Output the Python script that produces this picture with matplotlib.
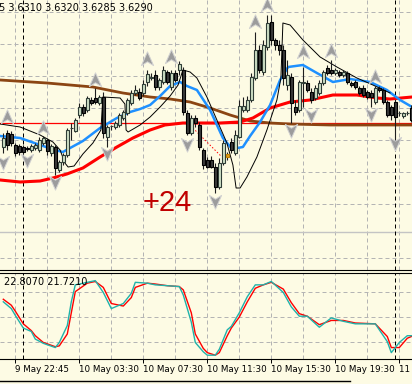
import matplotlib
matplotlib.use("Agg")
import matplotlib.pyplot as plt
from matplotlib.path import Path
from matplotlib.lines import Line2D

# M15 bars, index 0..102 (left to right)
opens = [3.6253, 3.6267, 3.6266, 3.6255, 3.6254, 3.6253, 3.6252, 3.6250, 3.6252, 3.6250,
         3.6257, 3.6260, 3.6247, 3.6253, 3.6230, 3.6238, 3.6245, 3.6272, 3.6269, 3.6285,
         3.6293, 3.6290, 3.6300, 3.6302, 3.6297, 3.6303, 3.6263, 3.6274, 3.6273, 3.6275,
         3.6282, 3.6287, 3.6297, 3.6307, 3.6308, 3.6307, 3.6318, 3.6322, 3.6325, 3.6313,
         3.6318, 3.6328, 3.6313, 3.6327, 3.6330, 3.6330, 3.6287, 3.6267, 3.6282, 3.6275,
         3.6250, 3.6240, 3.6240, 3.6233, 3.6213, 3.6237, 3.6243, 3.6258, 3.6247, 3.6263,
         3.6290, 3.6290, 3.6300, 3.6322, 3.6350, 3.6328, 3.6353, 3.6378, 3.6360, 3.6355,
         3.6350, 3.6315, 3.6323, 3.6293, 3.6290, 3.6317, 3.6317, 3.6308, 3.6302, 3.6307,
         3.6317, 3.6332, 3.6330, 3.6327, 3.6328, 3.6325, 3.6327, 3.6317, 3.6318, 3.6312,
         3.6312, 3.6308, 3.6307, 3.6298, 3.6312, 3.6310, 3.6298, 3.6293, 3.6298, 3.6287,
         3.6284, 3.6287, 3.6292]
closes = [3.6262, 3.6255, 3.6257, 3.6247, 3.6248, 3.6248, 3.6251, 3.6254, 3.6255, 3.6260,
          3.6262, 3.6249, 3.6254, 3.6232, 3.6238, 3.6245, 3.6270, 3.6272, 3.6280, 3.6293,
          3.6287, 3.6302, 3.6297, 3.6298, 3.6303, 3.6267, 3.6273, 3.6274, 3.6277, 3.6285,
          3.6288, 3.6300, 3.6307, 3.6310, 3.6302, 3.6316, 3.6326, 3.6323, 3.6313, 3.6320,
          3.6330, 3.6318, 3.6327, 3.6320, 3.6336, 3.6288, 3.6267, 3.6282, 3.6277, 3.6253,
          3.6235, 3.6233, 3.6233, 3.6213, 3.6237, 3.6257, 3.6246, 3.6250, 3.6265, 3.6294,
          3.6294, 3.6300, 3.6323, 3.6350, 3.6330, 3.6355, 3.6377, 3.6360, 3.6355, 3.6350,
          3.6322, 3.6325, 3.6297, 3.6288, 3.6318, 3.6318, 3.6310, 3.6300, 3.6312, 3.6317,
          3.6328, 3.6327, 3.6327, 3.6330, 3.6325, 3.6328, 3.6318, 3.6315, 3.6313, 3.6307,
          3.6305, 3.6303, 3.6303, 3.6312, 3.6310, 3.6298, 3.6285, 3.6285, 3.6283, 3.6287,
          3.6287, 3.6287, 3.6280]
highs = [3.6267, 3.6270, 3.6269, 3.6257, 3.6256, 3.6255, 3.6254, 3.6256, 3.6257, 3.6263,
         3.6264, 3.6262, 3.6256, 3.6255, 3.6240, 3.6247, 3.6272, 3.6277, 3.6282, 3.6297,
         3.6296, 3.6304, 3.6303, 3.6312, 3.6305, 3.6308, 3.6275, 3.6275, 3.6279, 3.6287,
         3.6290, 3.6302, 3.6310, 3.6315, 3.6312, 3.6320, 3.6330, 3.6327, 3.6330, 3.6322,
         3.6334, 3.6330, 3.6330, 3.6330, 3.6339, 3.6333, 3.6290, 3.6285, 3.6285, 3.6278,
         3.6252, 3.6243, 3.6244, 3.6237, 3.6242, 3.6260, 3.6248, 3.6262, 3.6270, 3.6300,
         3.6303, 3.6304, 3.6327, 3.6368, 3.6355, 3.6360, 3.6385, 3.6385, 3.6362, 3.6360,
         3.6355, 3.6340, 3.6327, 3.6300, 3.6320, 3.6333, 3.6320, 3.6312, 3.6315, 3.6320,
         3.6330, 3.6335, 3.6340, 3.6332, 3.6330, 3.6330, 3.6329, 3.6319, 3.6320, 3.6314,
         3.6315, 3.6310, 3.6310, 3.6314, 3.6314, 3.6312, 3.6300, 3.6295, 3.6300, 3.6289,
         3.6288, 3.6289, 3.6295]
lows = [3.6247, 3.6250, 3.6254, 3.6244, 3.6245, 3.6246, 3.6249, 3.6248, 3.6250, 3.6248,
        3.6255, 3.6245, 3.6244, 3.6225, 3.6228, 3.6235, 3.6243, 3.6260, 3.6268, 3.6282,
        3.6284, 3.6288, 3.6295, 3.6296, 3.6295, 3.6262, 3.6253, 3.6270, 3.6271, 3.6273,
        3.6280, 3.6285, 3.6295, 3.6305, 3.6300, 3.6304, 3.6314, 3.6320, 3.6310, 3.6310,
        3.6316, 3.6316, 3.6310, 3.6318, 3.6325, 3.6285, 3.6265, 3.6265, 3.6273, 3.6250,
        3.6231, 3.6232, 3.6232, 3.6207, 3.6211, 3.6235, 3.6240, 3.6247, 3.6245, 3.6262,
        3.6288, 3.6288, 3.6298, 3.6320, 3.6327, 3.6325, 3.6350, 3.6355, 3.6350, 3.6345,
        3.6315, 3.6310, 3.6277, 3.6285, 3.6288, 3.6293, 3.6308, 3.6297, 3.6300, 3.6305,
        3.6315, 3.6325, 3.6325, 3.6325, 3.6323, 3.6323, 3.6316, 3.6313, 3.6311, 3.6305,
        3.6303, 3.6301, 3.6293, 3.6296, 3.6308, 3.6296, 3.6283, 3.6280, 3.6260, 3.6284,
        3.6282, 3.6285, 3.6278]
marked_bar = 56  # the gold candle

# moving averages (bar position, price)
blue_x = [-0.8, 4.2, 9.2, 12.9, 14.9, 16.7, 19.9, 24.2, 28.4, 31.7, 34.2, 36.7, 39.2, 41.7,
          44.2, 45.9, 48.4, 51.7, 54.9, 57.2, 59.9, 61.7, 64.2, 66.7, 69.2, 71.2, 74.9, 78.4,
          82.4, 86.7, 91.7, 95.9, 99.2, 102.2]
blue_y = [3.6264, 3.6262, 3.6255, 3.6250, 3.6248, 3.6252, 3.6259, 3.6272, 3.6282, 3.6288,
          3.6291, 3.6295, 3.6304, 3.6314, 3.6318, 3.6314, 3.6310, 3.6290, 3.6262, 3.6251,
          3.6253, 3.6264, 3.6278, 3.6295, 3.6320, 3.6333, 3.6335, 3.6327, 3.6318, 3.6321,
          3.6318, 3.6310, 3.6300, 3.6293]
red_x = [-0.8, 4.2, 9.2, 12.4, 15.9, 19.9, 24.2, 28.4, 32.4, 36.7, 40.4, 44.9, 49.2, 54.2,
         59.2, 62.4, 66.7, 71.7, 76.7, 82.4, 88.4, 93.4, 96.7, 102.2]
red_y = [3.6220, 3.6218, 3.6219, 3.6222, 3.6226, 3.6232, 3.6243, 3.6253, 3.6262, 3.6270,
         3.6275, 3.6277, 3.6277, 3.6277, 3.6278, 3.6282, 3.6292, 3.6298, 3.6300, 3.6305,
         3.6305, 3.6302, 3.6301, 3.6303]
brown_x = [-0.8, 10.9, 22.4, 29.9, 36.7, 41.7, 46.7, 51.7, 56.7, 61.7, 66.7, 71.7, 81.7, 102.2]
brown_y = [3.6320, 3.6317, 3.6313, 3.6307, 3.6303, 3.6301, 3.6298, 3.6292, 3.6285, 3.6279,
           3.6277, 3.6276, 3.6275, 3.6275]
env_x = [-0.8, 4.2, 9.2, 12.4, 14.2, 15.4, 16.2, 17.7, 19.9, 22.4, 24.4, 24.9, 29.2, 30.4,
         30.7, 31.2, 34.2, 36.7, 39.2, 41.7, 43.7, 44.9, 46.7, 48.4, 50.9, 53.4, 55.9, 57.4,
         58.2, 59.2, 60.9, 63.4, 65.9, 68.4, 69.4, 69.9, 71.7, 74.9, 79.2, 83.4, 88.4, 92.4, 96.7]
env_y = [3.6276, 3.6273, 3.6265, 3.6258, 3.6250, 3.6237, 3.6233, 3.6234, 3.6246, 3.6257,
         3.6270, 3.6303, 3.6302, 3.6296, 3.6270, 3.6268, 3.6275, 3.6283, 3.6293, 3.6304,
         3.6315, 3.6330, 3.6328, 3.6322, 3.6303, 3.6280, 3.6257, 3.6235, 3.6212, 3.6212,
         3.6223, 3.6243, 3.6270, 3.6300, 3.6322, 3.6377, 3.6375, 3.6360, 3.6343, 3.6333,
         3.6322, 3.6315, 3.6307]
hline_price = 3.6277
gray_hline = 3.6168
trend_x = [47.4, 54.4]
trend_y = [3.6272, 3.6244]

# fractals
up_bars = [1, 10, 23, 36, 42, 63, 66, 75, 82, 93]
up_price = [3.6283, 3.6272, 3.6320, 3.6341, 3.6343, 3.6378, 3.6395, 3.6348, 3.6349, 3.6323]
dn_bars = [0, 6, 13, 26, 46, 53, 72, 77, 92, 98]
dn_price = [3.6238, 3.6240, 3.6218, 3.6247, 3.6256, 3.6199, 3.6270, 3.6285, 3.6286, 3.6257]

# stochastic
stoch_x = [0, 2, 3, 5, 7, 8, 10, 13, 14, 16, 17, 18, 21, 23, 25, 27, 30, 32, 33, 36, 38, 41,
           44, 45, 47, 48, 50, 51, 53, 54, 56, 57, 59, 61, 63, 65, 67, 70, 72, 74, 76, 79, 82,
           85, 88, 93, 96, 97, 99, 101, 102]
stoch_main = [68, 60, 52, 37, 33, 24, 19, 14, 20, 40, 68, 88, 91, 93, 79, 60, 66, 78, 91, 90,
              88, 87, 86, 76, 44, 20, 9, 5, 5, 12, 35, 39, 55, 74, 88, 88, 92, 79, 62, 51, 51,
              38, 49, 45, 42, 42, 21, 8, 20, 28, 28]
stoch_sig = [71, 64, 57, 42, 34, 28, 20, 15, 16, 30, 55, 80, 90, 92, 85, 66, 63, 73, 85, 90,
             89, 87, 86, 82, 55, 30, 13, 8, 5, 8, 28, 37, 50, 68, 84, 88, 91, 83, 67, 54, 51,
             41, 46, 46, 43, 42, 27, 14, 14, 25, 27]

grid_bars = list(range(3, 103, 8))
label_bars = [3, 19, 35, 51, 67, 83, 99]
labels = ["9 May 22:45", "10 May 03:30", "10 May 07:30", "10 May 11:30",
          "10 May 15:30", "10 May 19:30", "11 May 00:30"]
day_sep = [5, 98]
price_grid = [3.6388, 3.6356, 3.6324, 3.6292, 3.6260, 3.6228, 3.6196, 3.6142]

BG = "#fdfbe4"
W, H = 412, 384
fig = plt.figure(figsize=(W / 100, H / 100), dpi=100, facecolor=BG)
ax = fig.add_axes([0, 1 - 270 / H, 1, 270 / H], facecolor=BG)
ax2 = fig.add_axes([0, 1 - 359 / H, 1, 86 / H], facecolor=BG)
xlim = (-0.825, 102.175)

grid_kw = dict(color="#b4b4b4", lw=0.72, ls=(0, (4, 3)), zorder=0)
for a in (ax, ax2):
    a.set_xlim(*xlim)
    for g in grid_bars:
        a.axvline(g, **grid_kw)
    for d in day_sep:
        a.axvline(d, color="black", lw=0.72, ls=(0, (4, 3)), zorder=1)
    for s in ("left", "right", "top"):
        a.spines[s].set_visible(False)
    a.spines["bottom"].set_color("black")

for p in price_grid:
    ax.axhline(p, **grid_kw)
ax.axhline(gray_hline, color="#c4c4c4", lw=1.0, zorder=0)
ax.set_ylim(3.6130, 3.6400)
ax.set_xticks([])
ax.set_yticks([])

# indicators behind candles
ax.axhline(hline_price, color="#ff0000", lw=0.9, zorder=2)
ax.plot(brown_x, brown_y, color="#8b4513", lw=2.0, zorder=2)
ax.plot(red_x, red_y, color="#ff0000", lw=2.2, zorder=2)
ax.plot(blue_x, blue_y, color="#1e90ff", lw=1.8, zorder=2)
ax.plot(env_x, env_y, color="black", lw=0.7, zorder=3)
ax.plot(trend_x, trend_y, color="#ff0000", lw=0.7, ls=(0, (1.5, 2)), zorder=3)

# candles
for i in range(len(opens)):
    o, c, h, l = opens[i], closes[i], highs[i], lows[i]
    ax.vlines(i, l, h, color="#1e1e1e", lw=0.8, zorder=4)
    if i == marked_bar:
        fc, ec = "#e0a020", "#c08000"
    elif c >= o:
        fc, ec = "#cfe0c6", "#2f3d36"
    else:
        fc, ec = "#3a3a3a", "#000000"
    ax.bar(i, c - o, bottom=o, width=0.62, color=fc, edgecolor=ec, lw=0.8, zorder=5)

# fractal arrows
up_marker = Path([(0, 1), (0.8, -0.8), (0, -0.3), (-0.8, -0.8), (0, 1)],
                 [Path.MOVETO, Path.LINETO, Path.LINETO, Path.LINETO, Path.CLOSEPOLY])
dn_marker = Path([(0, -1), (0.8, 0.8), (0, 0.3), (-0.8, 0.8), (0, -1)],
                 [Path.MOVETO, Path.LINETO, Path.LINETO, Path.LINETO, Path.CLOSEPOLY])
ax.plot(up_bars, up_price, ls="none", marker=up_marker, ms=11, mfc="#9c9c9c",
        mec="#d2d2d2", mew=0.7, zorder=6)
ax.plot(dn_bars, dn_price, ls="none", marker=dn_marker, ms=11, mfc="#9c9c9c",
        mec="#d2d2d2", mew=0.7, zorder=6)

ax.text(34.9, 3.6197, "+24", color="#c00000", fontsize=21, family="Liberation Sans",
        ha="left", va="center", zorder=7)

# stochastic subwindow
for lv in (20, 50, 80):
    ax2.axhline(lv, **grid_kw)
ax2.plot(stoch_x, stoch_sig, color="#ff0000", lw=1.0, zorder=3)
ax2.plot(stoch_x, stoch_main, color="#20b2aa", lw=1.0, zorder=3)
ax2.set_ylim(0.5, 102)
ax2.set_yticks([])
ax2.spines["top"].set_visible(True)
ax2.spines["top"].set_color("black")
ax2.set_xticks(label_bars)
ax2.set_xticklabels(labels, ha="left")
ax2.tick_params(axis="x", length=3, width=0.7, pad=1.5, labelsize=6.3, color="black")

fig.text(-1 / W, 1 - 8 / H, "5 3.6310 3.6320 3.6285 3.6290", fontsize=7,
         ha="left", va="center", color="black")
fig.text(4 / W, 1 - 282 / H, "22.8070 21.7210", fontsize=7,
         ha="left", va="center", color="black")
fig.add_artist(Line2D([0, 350 / W], [1 - 381 / H, 1 - 381 / H], color="black", lw=1.0))

fig.savefig("out.png", dpi=100, facecolor=BG)
